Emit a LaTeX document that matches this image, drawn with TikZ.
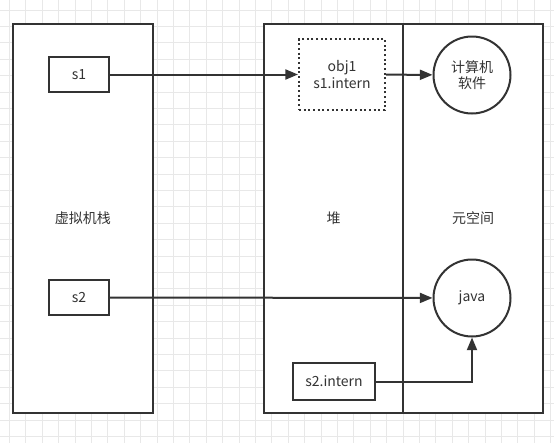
\documentclass[tikz,border=0pt]{standalone}
\usepackage{fontspec}
\setmainfont{Noto Sans CJK SC}
\usepackage{tikz}
\usetikzlibrary{arrows.meta, positioning, calc}
\definecolor{linegray}{RGB}{51,51,51}
\definecolor{gridgray}{RGB}{232,232,232}

\begin{document}
\begin{tikzpicture}[
  x=0.75pt, y=-0.75pt,
  font=\fontsize{10.5pt}{12.5pt}\selectfont, text=linegray,
  area/.style={rectangle, draw=linegray, line width=1.5pt, fill=white,
               minimum width=105pt, minimum height=291.75pt, inner sep=0pt},
  var/.style={rectangle, draw=linegray, line width=1.5pt, fill=white,
              minimum height=26.25pt, inner sep=2pt},
  obj/.style={rectangle, draw=linegray, dotted, line width=1.5pt, fill=white,
              minimum width=64.5pt, minimum height=53.25pt, align=center},
  str/.style={circle, draw=linegray, line width=1.5pt, fill=white,
              minimum size=57.75pt, inner sep=0pt, align=center},
  arr/.style={-{Triangle[length=9.5pt, width=7.5pt]}, line width=1.5pt, draw=linegray},
]

% background grid
\useasboundingbox (0,0) rectangle (554,443);
\fill[white] (0,0) rectangle (554,443);
\foreach \i in {0,...,33} \draw[gridgray, line width=0.75pt] (9.5+16.4*\i,0) -- (9.5+16.4*\i,443);
\foreach \j in {0,...,26} \draw[gridgray, line width=0.75pt] (0,10+16.4*\j) -- (554,10+16.4*\j);

% memory areas
\node[area] (stack) at (83,218.5) {虚拟机栈};
\node[area, minimum width=104.25pt] (heap) at (333.5,218.5) {堆};
\node[area] (meta) at (473,218.5) {元空间};

% contents
\node[var, minimum width=45pt] (s1) at (79,74.5) {s1};
\node[var, minimum width=45pt] (s2) at (79,297.5) {s2};
\node[obj] (obj1) at (342,74.5) {obj1\\s1.intern};
\node[str] (soft) at (472,75) {计算机\\软件};
\node[str] (java) at (472,298) {java};
\node[var, minimum width=61.5pt, minimum height=27.75pt] (s2i) at (334,381.5) {s2.intern};

% references
\draw[arr] (s1) -- (obj1);
\draw[arr] (obj1) -- (soft);
\draw[arr] (s2) -- (java);
\draw[arr] (s2i.east) -| (java.south);

\end{tikzpicture}
\end{document}
